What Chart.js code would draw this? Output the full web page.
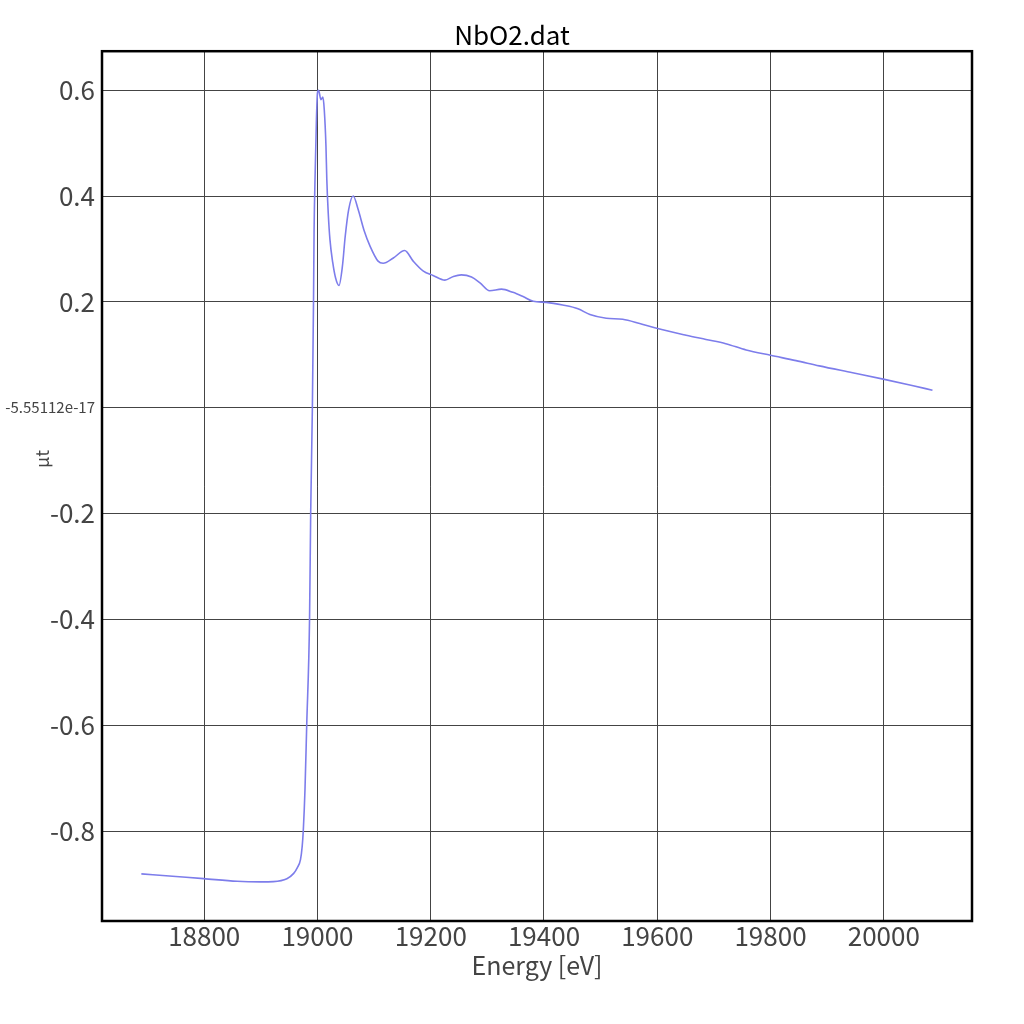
<!DOCTYPE html>
<html>
<head>
<meta charset="utf-8">
<script src="https://cdn.jsdelivr.net/npm/chart.js@4/dist/chart.umd.min.js"></script>
<style>
html,body{margin:0;padding:0;background:#fff;}
#wrap{width:1024px;height:1024px;position:relative;}
</style>
</head>
<body>
<div id="wrap"><canvas id="c" width="1024" height="1024"></canvas></div>
<script>
const chartTitle = 'NbO2.dat';
const xLabel = 'Energy [eV]';
const yLabel = 'μt';
const xTicks = [18800, 19000, 19200, 19400, 19600, 19800, 20000];
const yTicks = [-0.8, -0.6, -0.4, -0.2, 0, 0.2, 0.4, 0.6];
const yTickLabels = ['-0.8', '-0.6', '-0.4', '-0.2', '-5.55112e-17', '0.2', '0.4', '0.6'];

const energy = [18689, 18750, 18799, 18858, 18900, 18922, 18946, 18958, 18964, 18970, 18973, 18975,
  18978, 18981, 18986, 18988, 18991, 18993, 18994, 18996, 18998, 19000, 19002, 19006, 19009.5, 19012,
  19015, 19016.5, 19019, 19022, 19027, 19032, 19038, 19044, 19049, 19055, 19063, 19072, 19082, 19093,
  19107, 19116, 19134, 19154, 19169, 19187, 19204, 19225, 19240, 19254, 19272, 19287, 19304, 19325,
  19345, 19363, 19381, 19404, 19433, 19460, 19481, 19510, 19539, 19569, 19599, 19651, 19686, 19721,
  19757, 19800, 19845, 19886, 19945, 19999, 20050, 20086];
const mu = [-0.881, -0.886, -0.890, -0.895, -0.896, -0.8955, -0.890, -0.880, -0.870, -0.854, -0.829, -0.798,
  -0.72, -0.60, -0.40, -0.20, 0.00, 0.20, 0.333, 0.447, 0.538, 0.595, 0.600, 0.582, 0.587, 0.563,
  0.494, 0.431, 0.368, 0.318, 0.274, 0.245, 0.231, 0.267, 0.324, 0.374, 0.400, 0.374, 0.336, 0.305,
  0.277, 0.273, 0.283, 0.297, 0.277, 0.258, 0.250, 0.241, 0.248, 0.251, 0.247, 0.236, 0.221, 0.224,
  0.218, 0.210, 0.201, 0.199, 0.194, 0.187, 0.176, 0.169, 0.167, 0.159, 0.150, 0.137, 0.129, 0.121,
  0.109, 0.099, 0.089, 0.079, 0.066, 0.054, 0.042, 0.033];

const FONT = '"Noto Sans CJK JP", "Noto Sans", sans-serif';
const points = energy.map((e, i) => ({x: e, y: mu[i]}));

const frame = {
  id: 'frame',
  afterDraw(chart) {
    const {ctx, chartArea: a} = chart;
    ctx.save();
    ctx.strokeStyle = '#000';
    ctx.lineWidth = 2.5;
    ctx.strokeRect(a.left, a.top, a.right - a.left, a.bottom - a.top);
    ctx.fillStyle = '#444';
    ctx.font = '18px ' + FONT;
    ctx.textAlign = 'center';
    ctx.textBaseline = 'middle';
    ctx.translate(42, 459);
    ctx.rotate(-Math.PI / 2);
    ctx.fillText(yLabel, 0, 0);
    ctx.restore();
  }
};

new Chart(document.getElementById('c'), {
  type: 'line',
  data: {
    datasets: [{
      data: points,
      borderColor: 'rgb(125,125,235)',
      borderWidth: 1.6,
      pointRadius: 0,
      fill: false,
      cubicInterpolationMode: 'monotone'
    }]
  },
  options: {
    responsive: false,
    animation: false,
    layout: {padding: 0},
    plugins: {
      legend: {display: false},
      tooltip: {enabled: false},
      title: {
        display: true,
        text: chartTitle,
        color: '#000',
        font: {family: FONT, size: 26, weight: 'normal'},
        padding: {top: 20, bottom: 0}
      }
    },
    scales: {
      x: {
        type: 'linear',
        min: 18619.5,
        max: 20155.8,
        afterBuildTicks: s => { s.ticks = xTicks.map(v => ({value: v})); },
        afterFit: s => { s.height = 103; },
        grid: {color: '#444', lineWidth: 1, drawTicks: false},
        border: {display: false},
        ticks: {
          color: '#444', padding: 0,
          font: {family: FONT, size: 26},
          callback: v => String(v)
        },
        title: {
          display: true, text: xLabel, color: '#444',
          font: {family: FONT, size: 25},
          padding: {top: 44, bottom: 44}
        }
      },
      y: {
        type: 'linear',
        min: -0.97,
        max: 0.6737,
        afterBuildTicks: s => { s.ticks = yTicks.map(v => ({value: v})); },
        afterFit: s => { s.width = 102; },
        grid: {color: '#444', lineWidth: 1, drawTicks: false},
        border: {display: false},
        ticks: {
          color: '#444', padding: 7,
          font: ctx => ({family: FONT, size: (ctx.tick && ctx.tick.value === 0) ? 15 : 26}),
          callback: (v, i) => yTickLabels[yTicks.indexOf(v)] ?? String(v)
        }
      },
      yRight: {
        type: 'linear',
        position: 'right',
        min: -0.97,
        max: 0.6737,
        afterFit: s => { s.width = 52; },
        grid: {display: false, drawTicks: false},
        border: {display: false},
        ticks: {display: false}
      }
    }
  },
  plugins: [frame]
});
</script>
</body>
</html>
